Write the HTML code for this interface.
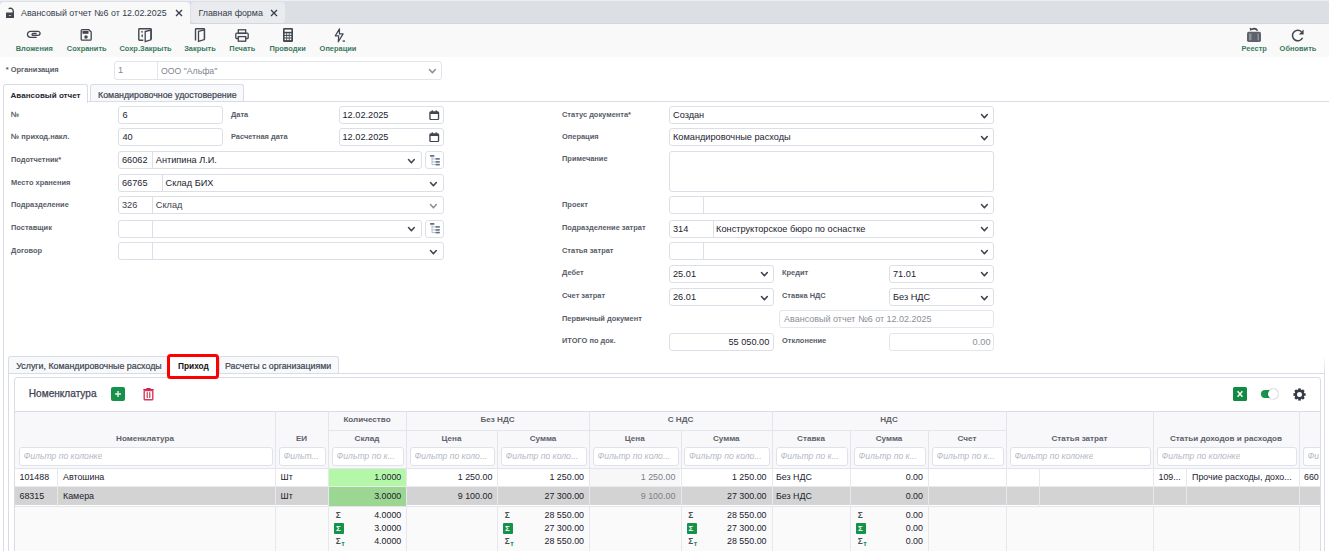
<!DOCTYPE html><html><head><meta charset="utf-8"><style>
*{box-sizing:border-box;margin:0;padding:0}
html,body{width:1329px;height:551px;overflow:hidden;background:#fff;font-family:"Liberation Sans",sans-serif;position:relative}
svg{display:block}
.abs{position:absolute}
.lbl{position:absolute;font-size:7.45px;font-weight:bold;color:#585d67;white-space:nowrap;line-height:10px}
.inp{position:absolute;border:1px solid #dcdfe8;border-radius:3px;background:#fff}
.t{position:absolute;font-size:9.2px;color:#1b2230;white-space:nowrap;line-height:12px}
.t2{position:absolute;font-size:9.2px;color:#3f4247;white-space:nowrap;line-height:12px}
.tg{position:absolute;font-size:9.2px;color:#80858e;white-space:nowrap;line-height:12px}
.vl{position:absolute;width:1px;background:#dcdfe8}
.hl{position:absolute;height:1px;background:#dcdfe8}
.tb{position:absolute;font-size:7.45px;font-weight:bold;color:#3a7a5c;white-space:nowrap;line-height:10px}
.ico{position:absolute}
.hd{position:absolute;font-size:8.1px;font-weight:bold;color:#5d626c;white-space:nowrap;line-height:10px}
.ph{position:absolute;font-size:8.6px;font-style:italic;color:#b3b8c2;white-space:nowrap;line-height:11px;overflow:hidden;text-overflow:ellipsis}
.c{position:absolute;font-size:8.9px;color:#1b2230;white-space:nowrap;line-height:11px}
.tab{position:absolute;font-size:8.8px;color:#3d4452;white-space:nowrap;line-height:11px;-webkit-text-stroke:0.2px currentColor}
</style></head><body><div class="abs" style="left:0;top:0;width:1329px;height:24px;background:#dcdfe4;border-top:1px solid #eceef1;border-bottom:1px solid #d4d8de"></div><div class="abs" style="left:0;top:2px;width:190px;height:22px;background:#f9f9fa;border-radius:4px 4px 0 0"></div><div class="abs" style="left:191px;top:2px;width:94px;height:20.5px;background:#e9ebef;border-radius:4px"></div><svg class="ico" style="left:5px;top:7px" width="10" height="12" viewBox="0 0 10 12"><path d="M3.6 1.7 Q5 0.9 6.5 1.4 Q8.3 2.2 8.3 4.5 V6" fill="none" stroke="#41464f" stroke-width="1.4"/><rect x="1" y="5.6" width="8" height="5.4" rx="0.5" fill="#41464f"/><rect x="3.9" y="8.1" width="2.2" height="0.9" fill="#c8cbd0"/></svg><div class="t" style="left:21px;top:7px;font-size:8.9px;color:#353c4a">Авансовый отчет №6 от 12.02.2025</div><div class="ico" style="left:174.5px;top:9px"><svg width="8" height="8" viewBox="0 0 8 8"><path d="M1 1 L7 7 M7 1 L1 7" stroke="#353c4a" stroke-width="1.3"/></svg></div><div class="t" style="left:198.4px;top:7px;font-size:8.9px;color:#353c4a">Главная форма</div><div class="ico" style="left:269.5px;top:9px"><svg width="8" height="8" viewBox="0 0 8 8"><path d="M1 1 L7 7 M7 1 L1 7" stroke="#353c4a" stroke-width="1.3"/></svg></div><div class="abs" style="left:0;top:24px;width:1329px;height:33px;background:#f9f9fa"></div><div class="tb" style="left:15.7px;top:43.5px;">Вложения</div><div class="tb" style="left:66.8px;top:43.5px;">Сохранить</div><div class="tb" style="left:119.5px;top:43.5px;">Сохр.Закрыть</div><div class="tb" style="left:184.2px;top:43.5px;">Закрыть</div><div class="tb" style="left:229.3px;top:43.5px;">Печать</div><div class="tb" style="left:269.4px;top:43.5px;">Проводки</div><div class="tb" style="left:319.6px;top:43.5px;">Операции</div><div class="tb" style="left:1241.6px;top:43.5px;">Реестр</div><div class="tb" style="left:1279.6px;top:43.5px;">Обновить</div><svg class="ico" style="left:26px;top:30px" width="16" height="9" viewBox="0 0 16 9"><path d="M10.7 7.4 H4.5 A3.05 3.05 0 0 1 4.5 1.3 H12 A2.05 2.05 0 0 1 12 5.4 H7 A0.95 0.95 0 0 1 7 3.5 H10.7" fill="none" stroke="#41464f" stroke-width="1.3"/></svg><svg class="ico" style="left:80px;top:29px" width="12" height="12" viewBox="0 0 12 12"><path d="M1.2 1.7 Q1.2 0.7 2.2 0.7 H8.8 L11.2 3.1 V10.2 Q11.2 11.2 10.2 11.2 H2.2 Q1.2 11.2 1.2 10.2 Z" fill="none" stroke="#41464f" stroke-width="1.3"/><rect x="2.5" y="1.9" width="6" height="2.9" fill="#41464f"/><circle cx="6" cy="8.1" r="1.75" fill="#41464f"/></svg><svg class="ico" style="left:138px;top:28px" width="15" height="15" viewBox="0 0 15 15"><path d="M5.3 12.2 H1.5 Q0.8 12.2 0.8 11.5 V1.5 Q0.8 0.8 1.5 0.8 H12.5 Q13.2 0.8 13.2 1.5 V11.4" fill="none" stroke="#41464f" stroke-width="1.4"/><path d="M7.2 3.5 L12.8 2 V11.8 L7.2 13.6 Z" fill="#fafafa" stroke="#41464f" stroke-width="1.3"/><circle cx="4" cy="3.8" r="0.9" fill="#41464f"/><path d="M4.8 6.3 A1.5 1.5 0 0 0 4.8 9.3 Z" fill="#41464f"/></svg><svg class="ico" style="left:194px;top:28px" width="12" height="15" viewBox="0 0 12 15"><path d="M1.5 12.5 V1.5 Q1.5 0.8 2.2 0.8 H9.8 Q10.5 0.8 10.5 1.5 V11.3" fill="none" stroke="#41464f" stroke-width="1.4"/><path d="M4.5 3.3 L10.3 1.8 V11.6 L4.5 13.4 Z" fill="#fafafa" stroke="#41464f" stroke-width="1.3"/></svg><svg class="ico" style="left:235px;top:28.5px" width="14" height="13" viewBox="0 0 14 13"><rect x="3.3" y="0.8" width="7.4" height="3.6" fill="none" stroke="#41464f" stroke-width="1.3"/><path d="M3 9.5 H1.5 Q0.8 9.5 0.8 8.8 V5.2 Q0.8 4.2 1.8 4.2 H12.2 Q13.2 4.2 13.2 5.2 V8.8 Q13.2 9.5 12.5 9.5 H11" fill="none" stroke="#41464f" stroke-width="1.3"/><rect x="3.3" y="7.6" width="7.4" height="4.6" fill="none" stroke="#41464f" stroke-width="1.3"/></svg><svg class="ico" style="left:283px;top:28px" width="10" height="14" viewBox="0 0 10 14"><rect x="0" y="0" width="10" height="14" rx="1.2" fill="#41464f"/><rect x="1.6" y="1.6" width="6.8" height="2.2" fill="#f8f9fa"/><rect x="1.6" y="5.3" width="1.7" height="1.6" fill="#f8f9fa"/><rect x="1.6" y="7.9" width="1.7" height="1.6" fill="#f8f9fa"/><rect x="1.6" y="10.5" width="1.7" height="1.6" fill="#f8f9fa"/><rect x="4.1" y="5.3" width="1.7" height="1.6" fill="#f8f9fa"/><rect x="4.1" y="7.9" width="1.7" height="1.6" fill="#f8f9fa"/><rect x="4.1" y="10.5" width="1.7" height="1.6" fill="#f8f9fa"/><rect x="6.6" y="5.3" width="1.7" height="1.6" fill="#f8f9fa"/><rect x="6.6" y="7.9" width="1.7" height="1.6" fill="#f8f9fa"/><rect x="6.6" y="10.5" width="1.7" height="1.6" fill="#f8f9fa"/></svg><svg class="ico" style="left:334px;top:27.5px" width="12" height="15" viewBox="0 0 12 15"><path d="M5.5 0.9 L5.4 5.9 H9.1 L4.3 13.8 L4.7 7.8 H1.3 Z" fill="none" stroke="#41464f" stroke-width="1.25" stroke-linejoin="round"/><rect x="8.6" y="12.4" width="2.4" height="1.3" fill="#41464f"/></svg><svg class="ico" style="left:1247px;top:27px" width="14" height="15" viewBox="0 0 14 15"><rect x="0" y="4.8" width="14" height="10.2" rx="1.8" fill="#5c616b"/><rect x="2" y="6.5" width="2.5" height="6.8" fill="#8d9199"/><rect x="10.5" y="6.5" width="1.5" height="6.8" fill="#8d9199"/><path d="M10.6 3.6 Q8.5 0.6 5 2.2" fill="none" stroke="#41464f" stroke-width="1.5"/><path d="M2.6 0.4 L3.2 3.8 L6.2 2.6 Z" fill="#41464f"/></svg><svg class="ico" style="left:1291px;top:28.5px" width="14" height="13" viewBox="0 0 14 13"><path d="M11.6 8.8 A5.3 5.3 0 1 1 10.6 2.8" fill="none" stroke="#41464f" stroke-width="1.5"/><path d="M12.6 0.6 V5.4 H7.8 Z" fill="#41464f"/></svg><div class="lbl" style="left:5.8px;top:65px;">* Организация</div><div class="inp" style="left:114px;top:61px;width:328px;height:19px;border-color:#e1e4eb"></div><div class="vl" style="left:157px;top:62px;height:16.5px;background:#e1e4eb;"></div><div class="tg" style="left:118px;top:64px;">1</div><div class="tg" style="left:161px;top:64px;font-size:8.7px;top:64.5px">ООО "Альфа"</div><svg class="ico" style="left:427.5px;top:67.5px" width="8.8" height="6.3" viewBox="-1 -1 8.8 6.3"><path d="M0.5 0.5 L3.4 3.8 L6.3 0.5" fill="none" stroke="#8a8f98" stroke-width="1.55" stroke-linecap="round" stroke-linejoin="round"/></svg><div class="abs" style="left:3px;top:84px;width:85px;height:19px;border:1px solid #d9dce6;border-bottom:none;border-radius:3px 3px 0 0;background:#fff"></div><div class="abs" style="left:90px;top:84px;width:154px;height:18px;border:1px solid #d9dce6;border-bottom:none;border-radius:3px 3px 0 0;background:#f8f9fa"></div><div class="hl" style="left:88px;top:101px;width:1241px;background:#d9dce6;"></div><div class="vl" style="left:3px;top:101px;height:450px;background:#d9dce6;"></div><div class="tab" style="left:10.5px;top:90px;font-weight:bold;font-size:8.05px;color:#1f2633;-webkit-text-stroke:0">Авансовый отчет</div><div class="tab" style="left:98px;top:90px;font-size:8.85px">Командировочное удостоверение</div><div class="lbl" style="left:11px;top:109.6px;">№</div><div class="lbl" style="left:11px;top:131.70000000000002px;">№ приход.накл.</div><div class="lbl" style="left:11px;top:154.60000000000002px;">Подотчетник*</div><div class="lbl" style="left:11px;top:177.5px;">Место хранения</div><div class="lbl" style="left:11px;top:199.70000000000002px;">Подразделение</div><div class="lbl" style="left:11px;top:222.8px;">Поставщик</div><div class="lbl" style="left:11px;top:245.60000000000002px;">Договор</div><div class="lbl" style="left:231px;top:109.6px;">Дата</div><div class="lbl" style="left:231px;top:131.70000000000002px;">Расчетная дата</div><div class="inp" style="left:118px;top:106.3px;width:105px;height:18.0px;"></div><div class="t" style="left:122.5px;top:109.3px;">6</div><div class="inp" style="left:118px;top:128.4px;width:105px;height:18.0px;"></div><div class="t" style="left:122.5px;top:131.4px;">40</div><div class="inp" style="left:339px;top:106.3px;width:105px;height:18.0px;"></div><div class="t" style="left:342.5px;top:109.3px;">12.02.2025</div><div class="ico" style="left:429px;top:109.8px"><svg width="10.5" height="10.5" viewBox="0 0 11 11"><rect x="1" y="2" width="9" height="8" rx="1" fill="none" stroke="#41464f" stroke-width="1.4"/><rect x="1" y="2" width="9" height="2.2" fill="#41464f"/><rect x="2.8" y="0.3" width="1.3" height="2.5" fill="#41464f"/><rect x="6.9" y="0.3" width="1.3" height="2.5" fill="#41464f"/></svg></div><div class="inp" style="left:339px;top:128.4px;width:105px;height:18.0px;"></div><div class="t" style="left:342.5px;top:131.4px;">12.02.2025</div><div class="ico" style="left:429px;top:131.9px"><svg width="10.5" height="10.5" viewBox="0 0 11 11"><rect x="1" y="2" width="9" height="8" rx="1" fill="none" stroke="#41464f" stroke-width="1.4"/><rect x="1" y="2" width="9" height="2.2" fill="#41464f"/><rect x="2.8" y="0.3" width="1.3" height="2.5" fill="#41464f"/><rect x="6.9" y="0.3" width="1.3" height="2.5" fill="#41464f"/></svg></div><div class="inp" style="left:118px;top:151.3px;width:304px;height:18.0px;"></div><div class="vl" style="left:152.3px;top:152.3px;height:16.0px;"></div><div class="t" style="left:122px;top:154.3px;">66062</div><div class="t" style="left:155.8px;top:154.3px;">Антипина Л.И.</div><svg class="ico" style="left:406.8px;top:157.9px" width="8.8" height="6.3" viewBox="-1 -1 8.8 6.3"><path d="M0.5 0.5 L3.4 3.8 L6.3 0.5" fill="none" stroke="#41464f" stroke-width="1.55" stroke-linecap="round" stroke-linejoin="round"/></svg><div class="inp" style="left:425px;top:151.3px;width:19px;height:18.0px;"></div><div class="ico" style="left:429.5px;top:155.0px"><svg width="11" height="11" viewBox="0 0 11 11"><rect x="0" y="0" width="4.4" height="1.7" rx="0.4" fill="#5f6f85"/><path d="M2 1.7 V9.8 M2 3.9 H6 M2 6.9 H6 M2 9.6 H6" stroke="#a3aebb" stroke-width="0.8" fill="none"/><rect x="5.6" y="3.1" width="4.2" height="1.6" fill="#5f6f85"/><rect x="5.6" y="6.1" width="4.2" height="1.6" fill="#5f6f85"/><rect x="5.6" y="8.8" width="4.2" height="1.6" fill="#5f6f85"/></svg></div><div class="inp" style="left:118px;top:174.2px;width:326px;height:18.0px;"></div><div class="vl" style="left:162px;top:175.2px;height:16.0px;"></div><div class="t" style="left:122px;top:177.2px;">66765</div><div class="t" style="left:165.5px;top:177.2px;">Склад БИХ</div><svg class="ico" style="left:428.8px;top:180.79999999999998px" width="8.8" height="6.3" viewBox="-1 -1 8.8 6.3"><path d="M0.5 0.5 L3.4 3.8 L6.3 0.5" fill="none" stroke="#41464f" stroke-width="1.55" stroke-linecap="round" stroke-linejoin="round"/></svg><div class="inp" style="left:118px;top:196.4px;width:326px;height:18.0px;"></div><div class="vl" style="left:152.3px;top:197.4px;height:16.0px;"></div><div class="t2" style="left:122px;top:199.4px;">326</div><div class="t2" style="left:155.8px;top:199.4px;">Склад</div><svg class="ico" style="left:428.8px;top:203.0px" width="8.8" height="6.3" viewBox="-1 -1 8.8 6.3"><path d="M0.5 0.5 L3.4 3.8 L6.3 0.5" fill="none" stroke="#8a8f98" stroke-width="1.55" stroke-linecap="round" stroke-linejoin="round"/></svg><div class="inp" style="left:118px;top:219.5px;width:304px;height:18.0px;"></div><div class="vl" style="left:152.3px;top:220.5px;height:16.0px;"></div><svg class="ico" style="left:406.8px;top:226.1px" width="8.8" height="6.3" viewBox="-1 -1 8.8 6.3"><path d="M0.5 0.5 L3.4 3.8 L6.3 0.5" fill="none" stroke="#41464f" stroke-width="1.55" stroke-linecap="round" stroke-linejoin="round"/></svg><div class="inp" style="left:425px;top:219.5px;width:19px;height:18.0px;"></div><div class="ico" style="left:429.5px;top:223.2px"><svg width="11" height="11" viewBox="0 0 11 11"><rect x="0" y="0" width="4.4" height="1.7" rx="0.4" fill="#5f6f85"/><path d="M2 1.7 V9.8 M2 3.9 H6 M2 6.9 H6 M2 9.6 H6" stroke="#a3aebb" stroke-width="0.8" fill="none"/><rect x="5.6" y="3.1" width="4.2" height="1.6" fill="#5f6f85"/><rect x="5.6" y="6.1" width="4.2" height="1.6" fill="#5f6f85"/><rect x="5.6" y="8.8" width="4.2" height="1.6" fill="#5f6f85"/></svg></div><div class="inp" style="left:118px;top:242.3px;width:326px;height:18.0px;"></div><div class="vl" style="left:152.3px;top:243.3px;height:16.0px;"></div><svg class="ico" style="left:428.8px;top:248.9px" width="8.8" height="6.3" viewBox="-1 -1 8.8 6.3"><path d="M0.5 0.5 L3.4 3.8 L6.3 0.5" fill="none" stroke="#41464f" stroke-width="1.55" stroke-linecap="round" stroke-linejoin="round"/></svg><div class="lbl" style="left:562px;top:109.6px;">Статус документа*</div><div class="lbl" style="left:562px;top:131.70000000000002px;">Операция</div><div class="lbl" style="left:562px;top:153.8px;">Примечание</div><div class="lbl" style="left:562px;top:199.70000000000002px;">Проект</div><div class="lbl" style="left:562px;top:222.8px;">Подразделение затрат</div><div class="lbl" style="left:562px;top:245.60000000000002px;">Статья затрат</div><div class="lbl" style="left:562px;top:268.1px;">Дебет</div><div class="lbl" style="left:562px;top:291.2px;">Счет затрат</div><div class="lbl" style="left:562px;top:313.7px;">Первичный документ</div><div class="lbl" style="left:562px;top:336.0px;">ИТОГО по док.</div><div class="inp" style="left:669px;top:106.3px;width:324.5px;height:18.0px;"></div><div class="t" style="left:673px;top:109.3px;">Создан</div><svg class="ico" style="left:979.8px;top:112.89999999999999px" width="8.8" height="6.3" viewBox="-1 -1 8.8 6.3"><path d="M0.5 0.5 L3.4 3.8 L6.3 0.5" fill="none" stroke="#3b4150" stroke-width="1.55" stroke-linecap="round" stroke-linejoin="round"/></svg><div class="inp" style="left:669px;top:128.4px;width:324.5px;height:18.0px;"></div><div class="t" style="left:673px;top:131.4px;">Командировочные расходы</div><svg class="ico" style="left:979.8px;top:135.0px" width="8.8" height="6.3" viewBox="-1 -1 8.8 6.3"><path d="M0.5 0.5 L3.4 3.8 L6.3 0.5" fill="none" stroke="#3b4150" stroke-width="1.55" stroke-linecap="round" stroke-linejoin="round"/></svg><div class="inp" style="left:669px;top:151.3px;width:324.5px;height:40.69999999999999px;"></div><div class="inp" style="left:669px;top:196.4px;width:324.5px;height:18.0px;"></div><div class="vl" style="left:702.6px;top:197.4px;height:16.0px;"></div><svg class="ico" style="left:979.8px;top:203.0px" width="8.8" height="6.3" viewBox="-1 -1 8.8 6.3"><path d="M0.5 0.5 L3.4 3.8 L6.3 0.5" fill="none" stroke="#41464f" stroke-width="1.55" stroke-linecap="round" stroke-linejoin="round"/></svg><div class="inp" style="left:669px;top:219.5px;width:324.5px;height:18.0px;"></div><div class="vl" style="left:712.6px;top:220.5px;height:16.0px;"></div><div class="t" style="left:673px;top:222.5px;">314</div><div class="t" style="left:716.1px;top:222.5px;">Конструкторское бюро по оснастке</div><svg class="ico" style="left:979.8px;top:226.1px" width="8.8" height="6.3" viewBox="-1 -1 8.8 6.3"><path d="M0.5 0.5 L3.4 3.8 L6.3 0.5" fill="none" stroke="#41464f" stroke-width="1.55" stroke-linecap="round" stroke-linejoin="round"/></svg><div class="inp" style="left:669px;top:242.3px;width:324.5px;height:18.0px;"></div><div class="vl" style="left:702.6px;top:243.3px;height:16.0px;"></div><svg class="ico" style="left:979.8px;top:248.9px" width="8.8" height="6.3" viewBox="-1 -1 8.8 6.3"><path d="M0.5 0.5 L3.4 3.8 L6.3 0.5" fill="none" stroke="#41464f" stroke-width="1.55" stroke-linecap="round" stroke-linejoin="round"/></svg><div class="inp" style="left:669px;top:264.8px;width:104.5px;height:18.0px;"></div><div class="t" style="left:673px;top:267.8px;">25.01</div><svg class="ico" style="left:759.8px;top:271.40000000000003px" width="8.8" height="6.3" viewBox="-1 -1 8.8 6.3"><path d="M0.5 0.5 L3.4 3.8 L6.3 0.5" fill="none" stroke="#3b4150" stroke-width="1.55" stroke-linecap="round" stroke-linejoin="round"/></svg><div class="inp" style="left:669px;top:287.9px;width:104.5px;height:18.0px;"></div><div class="t" style="left:673px;top:290.9px;">26.01</div><svg class="ico" style="left:759.8px;top:294.5px" width="8.8" height="6.3" viewBox="-1 -1 8.8 6.3"><path d="M0.5 0.5 L3.4 3.8 L6.3 0.5" fill="none" stroke="#3b4150" stroke-width="1.55" stroke-linecap="round" stroke-linejoin="round"/></svg><div class="lbl" style="left:782px;top:268.1px;">Кредит</div><div class="lbl" style="left:782px;top:291.2px;">Ставка НДС</div><div class="inp" style="left:889px;top:264.8px;width:104.5px;height:18.0px;"></div><div class="t" style="left:893px;top:267.8px;">71.01</div><svg class="ico" style="left:979.8px;top:271.40000000000003px" width="8.8" height="6.3" viewBox="-1 -1 8.8 6.3"><path d="M0.5 0.5 L3.4 3.8 L6.3 0.5" fill="none" stroke="#3b4150" stroke-width="1.55" stroke-linecap="round" stroke-linejoin="round"/></svg><div class="inp" style="left:889px;top:287.9px;width:104.5px;height:18.0px;"></div><div class="t" style="left:893px;top:290.9px;">Без НДС</div><svg class="ico" style="left:979.8px;top:294.5px" width="8.8" height="6.3" viewBox="-1 -1 8.8 6.3"><path d="M0.5 0.5 L3.4 3.8 L6.3 0.5" fill="none" stroke="#3b4150" stroke-width="1.55" stroke-linecap="round" stroke-linejoin="round"/></svg><div class="inp" style="left:779px;top:310.4px;width:214.5px;height:18.0px;border-color:#e3e6ec"></div><div class="tg" style="left:784px;top:313.4px;color:#8a8f98;font-size:9px">Авансовый отчет №6 от 12.02.2025</div><div class="inp" style="left:669px;top:332.7px;width:104.5px;height:18.0px;"></div><div class="t" style="right:559.7px;top:335.7px;">55 050.00</div><div class="lbl" style="left:782px;top:336.0px;">Отклонение</div><div class="inp" style="left:889px;top:332.7px;width:104.5px;height:18.0px;border-color:#e3e6ec"></div><div class="tg" style="right:338.5px;top:335.7px;color:#8a8f98">0.00</div><div class="abs" style="left:8px;top:356px;width:160px;height:18px;border:1px solid #d9dce6;border-bottom:none;border-radius:3px 3px 0 0;background:#f8f9fa"></div><div class="abs" style="left:219px;top:356px;width:120px;height:18px;border:1px solid #d9dce6;border-bottom:none;border-radius:3px 3px 0 0;background:#f8f9fa"></div><div class="hl" style="left:8px;top:373px;width:160px;background:#d9dce6;"></div><div class="hl" style="left:218px;top:373px;width:1107px;background:#d9dce6;"></div><div class="vl" style="left:8px;top:373px;height:178px;background:#d9dce6;"></div><div class="abs" style="left:1324px;top:355px;width:1px;height:196px;background:linear-gradient(#fff,#d9dce6 18px)"></div><div class="tab" style="left:16.3px;top:361px;font-size:8.85px">Услуги, Командировочные расходы</div><div class="tab" style="left:225px;top:361px;font-size:8.85px">Расчеты с организациями</div><div class="tab" style="left:178px;top:361px;font-weight:bold;font-size:8.3px;color:#111;-webkit-text-stroke:0">Приход</div><div class="abs" style="left:14px;top:377px;width:1307px;height:200px;border:1px solid #d9dce6;border-radius:3px;background:#fff"></div><div class="t" style="left:28.8px;top:388px;font-size:10.1px;color:#3d4451;-webkit-text-stroke:0.25px #3d4451">Номенклатура</div><div class="abs" style="left:111px;top:387px;width:14px;height:14px;background:#15914a;border-radius:2px"></div><svg class="ico" style="left:111px;top:387px" width="14" height="14" viewBox="0 0 14 14"><path d="M7 4 V10 M4 7 H10" stroke="#e6f2ea" stroke-width="1.4"/></svg><svg class="ico" style="left:142.5px;top:388px" width="11" height="13" viewBox="0 0 11 13"><rect x="0.2" y="1" width="10.6" height="1.6" rx="0.5" fill="#d3224a"/><rect x="3.3" y="0" width="4.4" height="1.5" rx="0.5" fill="#d3224a"/><rect x="1.2" y="2.6" width="8.6" height="9.2" rx="0.8" fill="none" stroke="#d63a5a" stroke-width="1.4"/><path d="M4.2 4.6 V9.4 M6.8 4.6 V9.4" stroke="#d3224a" stroke-width="1.1" stroke-linecap="round"/></svg><div class="abs" style="left:1233px;top:387px;width:14px;height:14px;background:#138a44;border-radius:1.5px"></div><svg class="ico" style="left:1233px;top:387px" width="14" height="14" viewBox="0 0 14 14"><path d="M4.6 4.2 L9.4 9.8 M9.4 4.2 L4.6 9.8" stroke="#f2f8f4" stroke-width="1.5"/></svg><div class="abs" style="left:1261px;top:390px;width:13px;height:8px;background:#17934a;border-radius:4px"></div><div class="abs" style="left:1268px;top:389px;width:9.5px;height:9.5px;background:#fff;border-radius:50%;box-shadow:0 0 1.6px rgba(0,0,0,.5)"></div><svg class="ico" style="left:1292.5px;top:387.5px" width="13" height="13" viewBox="-6.5 -6.5 13 13"><g fill="#353b46"><rect x="-1.3" y="-6.1" width="2.6" height="2.6" transform="rotate(0)"/><rect x="-1.3" y="-6.1" width="2.6" height="2.6" transform="rotate(45)"/><rect x="-1.3" y="-6.1" width="2.6" height="2.6" transform="rotate(90)"/><rect x="-1.3" y="-6.1" width="2.6" height="2.6" transform="rotate(135)"/><rect x="-1.3" y="-6.1" width="2.6" height="2.6" transform="rotate(180)"/><rect x="-1.3" y="-6.1" width="2.6" height="2.6" transform="rotate(225)"/><rect x="-1.3" y="-6.1" width="2.6" height="2.6" transform="rotate(270)"/><rect x="-1.3" y="-6.1" width="2.6" height="2.6" transform="rotate(315)"/></g><circle r="3.7" fill="none" stroke="#353b46" stroke-width="2.4"/></svg><div class="abs" style="left:15px;top:411px;width:1305px;height:57px;background:#f8f8fa"></div><div class="hl" style="left:15px;top:411px;width:1305px;background:#d9dce6;"></div><div class="vl" style="left:275px;top:411px;height:57px;background:#e3e5ec;"></div><div class="vl" style="left:328px;top:411px;height:57px;background:#e3e5ec;"></div><div class="vl" style="left:406px;top:411px;height:57px;background:#e3e5ec;"></div><div class="vl" style="left:1006px;top:411px;height:57px;background:#e3e5ec;"></div><div class="vl" style="left:1153px;top:411px;height:57px;background:#e3e5ec;"></div><div class="vl" style="left:1299px;top:411px;height:57px;background:#e3e5ec;"></div><div class="vl" style="left:497px;top:429.5px;height:38.5px;background:#e3e5ec;"></div><div class="vl" style="left:680.5px;top:429.5px;height:38.5px;background:#e3e5ec;"></div><div class="vl" style="left:850px;top:429.5px;height:38.5px;background:#e3e5ec;"></div><div class="vl" style="left:928px;top:429.5px;height:38.5px;background:#e3e5ec;"></div><div class="vl" style="left:589px;top:411px;height:57px;background:#e3e5ec;"></div><div class="vl" style="left:772px;top:411px;height:57px;background:#e3e5ec;"></div><div class="hl" style="left:328px;top:429.5px;width:678px;background:#e3e5ec;"></div><div class="hd" style="left:328px;width:78px;top:415px;text-align:center;">Количество</div><div class="hd" style="left:406px;width:183px;top:415px;text-align:center;">Без НДС</div><div class="hd" style="left:589px;width:183px;top:415px;text-align:center;">С НДС</div><div class="hd" style="left:772px;width:234px;top:415px;text-align:center;">НДС</div><div class="hd" style="left:15px;width:260px;top:434px;text-align:center;">Номенклатура</div><div class="hd" style="left:275px;width:53px;top:434px;text-align:center;">ЕИ</div><div class="hd" style="left:328px;width:78px;top:434px;text-align:center;">Склад</div><div class="hd" style="left:406px;width:91px;top:434px;text-align:center;">Цена</div><div class="hd" style="left:497px;width:92px;top:434px;text-align:center;">Сумма</div><div class="hd" style="left:589px;width:91.5px;top:434px;text-align:center;">Цена</div><div class="hd" style="left:680.5px;width:91.5px;top:434px;text-align:center;">Сумма</div><div class="hd" style="left:772px;width:78px;top:434px;text-align:center;">Ставка</div><div class="hd" style="left:850px;width:78px;top:434px;text-align:center;">Сумма</div><div class="hd" style="left:928px;width:78px;top:434px;text-align:center;">Счет</div><div class="hd" style="left:1006px;width:147px;top:434px;text-align:center;">Статья затрат</div><div class="hd" style="left:1153px;width:146px;top:434px;text-align:center;">Статьи доходов и расходов</div><div class="inp" style="left:18.5px;top:447px;width:254.5px;height:18.5px;border-color:#dfe2ea"></div><div class="ph" style="left:23.5px;top:451px;">Фильтр по колонке</div><div class="inp" style="left:278.5px;top:447px;width:47.5px;height:18.5px;border-color:#dfe2ea"></div><div class="ph" style="left:283.5px;top:451px;">Фильт...</div><div class="inp" style="left:331.5px;top:447px;width:72.5px;height:18.5px;border-color:#dfe2ea"></div><div class="ph" style="left:336.5px;top:451px;">Фильтр по к...</div><div class="inp" style="left:409.5px;top:447px;width:85.5px;height:18.5px;border-color:#dfe2ea"></div><div class="ph" style="left:414.5px;top:451px;">Фильтр по коло...</div><div class="inp" style="left:500.5px;top:447px;width:86.5px;height:18.5px;border-color:#dfe2ea"></div><div class="ph" style="left:505.5px;top:451px;">Фильтр по коло...</div><div class="inp" style="left:592.5px;top:447px;width:86.0px;height:18.5px;border-color:#dfe2ea"></div><div class="ph" style="left:597.5px;top:451px;">Фильтр по коло...</div><div class="inp" style="left:684.0px;top:447px;width:86.0px;height:18.5px;border-color:#dfe2ea"></div><div class="ph" style="left:689.0px;top:451px;">Фильтр по коло...</div><div class="inp" style="left:775.5px;top:447px;width:72.5px;height:18.5px;border-color:#dfe2ea"></div><div class="ph" style="left:780.5px;top:451px;">Фильтр по к...</div><div class="inp" style="left:853.5px;top:447px;width:72.5px;height:18.5px;border-color:#dfe2ea"></div><div class="ph" style="left:858.5px;top:451px;">Фильтр по к...</div><div class="inp" style="left:931.5px;top:447px;width:72.5px;height:18.5px;border-color:#dfe2ea"></div><div class="ph" style="left:936.5px;top:451px;">Фильтр по к...</div><div class="inp" style="left:1009.5px;top:447px;width:141.5px;height:18.5px;border-color:#dfe2ea"></div><div class="ph" style="left:1014.5px;top:451px;">Фильтр по колонке</div><div class="inp" style="left:1156.5px;top:447px;width:140.5px;height:18.5px;border-color:#dfe2ea"></div><div class="ph" style="left:1161.5px;top:451px;">Фильтр по колонке</div><div class="inp" style="left:1302.5px;top:447px;width:17.5px;height:18.5px;border-color:#dfe2ea;border-right:none;border-radius:3px 0 0 3px"></div><div class="ph" style="left:1307.5px;top:451px;">Фи</div><div class="hl" style="left:15px;top:468px;width:1305px;background:#e3e5ec;"></div><div class="abs" style="left:15px;top:486.5px;width:1305px;height:18.5px;background:#d3d3d3"></div><div class="hl" style="left:15px;top:486px;width:1305px;background:#e8eaef;"></div><div class="abs" style="left:15px;top:505.5px;width:1305px;height:60px;background:#fafafb;border-top:1px solid #e3e5ec"></div><div class="abs" style="left:328px;top:469px;width:78px;height:17px;background:#b5f7a9"></div><div class="abs" style="left:328px;top:486.5px;width:78px;height:19.0px;background:#9bd692"></div><div class="abs" style="left:589px;top:469px;width:91px;height:17px;background:#f7f7f8"></div><div class="vl" style="left:57.4px;top:468px;height:37.5px;background:#e6e8ee;"></div><div class="vl" style="left:275px;top:468px;height:37.5px;background:#e6e8ee;"></div><div class="vl" style="left:328px;top:468px;height:37.5px;background:#e6e8ee;"></div><div class="vl" style="left:406px;top:468px;height:37.5px;background:#e6e8ee;"></div><div class="vl" style="left:497px;top:468px;height:37.5px;background:#e6e8ee;"></div><div class="vl" style="left:589px;top:468px;height:37.5px;background:#e6e8ee;"></div><div class="vl" style="left:680.5px;top:468px;height:37.5px;background:#e6e8ee;"></div><div class="vl" style="left:772px;top:468px;height:37.5px;background:#e6e8ee;"></div><div class="vl" style="left:850px;top:468px;height:37.5px;background:#e6e8ee;"></div><div class="vl" style="left:928px;top:468px;height:37.5px;background:#e6e8ee;"></div><div class="vl" style="left:1006px;top:468px;height:37.5px;background:#e6e8ee;"></div><div class="vl" style="left:1039px;top:468px;height:37.5px;background:#e6e8ee;"></div><div class="vl" style="left:1153px;top:468px;height:37.5px;background:#e6e8ee;"></div><div class="vl" style="left:1186px;top:468px;height:37.5px;background:#e6e8ee;"></div><div class="vl" style="left:1299px;top:468px;height:37.5px;background:#e6e8ee;"></div><div class="vl" style="left:275px;top:505.5px;height:45.5px;background:#e6e8ee;"></div><div class="vl" style="left:328px;top:505.5px;height:45.5px;background:#e6e8ee;"></div><div class="vl" style="left:406px;top:505.5px;height:45.5px;background:#e6e8ee;"></div><div class="vl" style="left:497px;top:505.5px;height:45.5px;background:#e6e8ee;"></div><div class="vl" style="left:589px;top:505.5px;height:45.5px;background:#e6e8ee;"></div><div class="vl" style="left:680.5px;top:505.5px;height:45.5px;background:#e6e8ee;"></div><div class="vl" style="left:772px;top:505.5px;height:45.5px;background:#e6e8ee;"></div><div class="vl" style="left:850px;top:505.5px;height:45.5px;background:#e6e8ee;"></div><div class="vl" style="left:928px;top:505.5px;height:45.5px;background:#e6e8ee;"></div><div class="vl" style="left:1006px;top:505.5px;height:45.5px;background:#e6e8ee;"></div><div class="vl" style="left:1153px;top:505.5px;height:45.5px;background:#e6e8ee;"></div><div class="vl" style="left:1299px;top:505.5px;height:45.5px;background:#e6e8ee;"></div><div class="c" style="left:19.5px;top:472px;">101488</div><div class="c" style="left:63px;top:472px;">Автошина</div><div class="c" style="left:280.5px;top:472px;">Шт</div><div class="c" style="right:927.7px;top:472px;">1.0000</div><div class="c" style="right:836.7px;top:472px;">1 250.00</div><div class="c" style="right:745px;top:472px;">1 250.00</div><div class="c" style="right:653.7px;top:472px;color:#7c8089">1 250.00</div><div class="c" style="right:562.5px;top:472px;">1 250.00</div><div class="c" style="left:776px;top:472px;">Без НДС</div><div class="c" style="right:406px;top:472px;">0.00</div><div class="c" style="left:19.5px;top:491px;">68315</div><div class="c" style="left:63px;top:491px;">Камера</div><div class="c" style="left:280.5px;top:491px;">Шт</div><div class="c" style="right:927.7px;top:491px;">3.0000</div><div class="c" style="right:836.7px;top:491px;">9 100.00</div><div class="c" style="right:745px;top:491px;">27 300.00</div><div class="c" style="right:653.7px;top:491px;color:#7c8089">9 100.00</div><div class="c" style="right:562.5px;top:491px;">27 300.00</div><div class="c" style="left:776px;top:491px;">Без НДС</div><div class="c" style="right:406px;top:491px;">0.00</div><div class="c" style="left:1158.5px;top:472px;">109...</div><div class="c" style="left:1192px;top:472px;">Прочие расходы, дохо...</div><div class="c" style="left:1304px;top:472px;">660</div><div class="c" style="left:335.8px;top:509.5px;font-size:8.4px;font-weight:bold;color:#4a505a">Σ</div><div class="c" style="right:927.7px;top:509.5px;">4.0000</div><div class="abs" style="left:334px;top:523.0px;width:10px;height:11px;background:#15914a;border-radius:1px"></div><div class="c" style="left:336px;top:523.0px;font-size:8px;font-weight:bold;color:#fff">Σ</div><div class="c" style="right:927.7px;top:522.5px;">3.0000</div><div class="c" style="left:335.8px;top:535.5px;font-size:8.4px;font-weight:bold;color:#4a505a">Σ</div><div class="c" style="left:341.3px;top:538.0px;font-size:7px;font-weight:bold;color:#15914a">т</div><div class="c" style="right:927.7px;top:535.5px;">4.0000</div><div class="c" style="left:504.8px;top:509.5px;font-size:8.4px;font-weight:bold;color:#4a505a">Σ</div><div class="c" style="right:745px;top:509.5px;">28 550.00</div><div class="abs" style="left:503px;top:523.0px;width:10px;height:11px;background:#15914a;border-radius:1px"></div><div class="c" style="left:505px;top:523.0px;font-size:8px;font-weight:bold;color:#fff">Σ</div><div class="c" style="right:745px;top:522.5px;">27 300.00</div><div class="c" style="left:504.8px;top:535.5px;font-size:8.4px;font-weight:bold;color:#4a505a">Σ</div><div class="c" style="left:510.3px;top:538.0px;font-size:7px;font-weight:bold;color:#15914a">т</div><div class="c" style="right:745px;top:535.5px;">28 550.00</div><div class="c" style="left:688.3px;top:509.5px;font-size:8.4px;font-weight:bold;color:#4a505a">Σ</div><div class="c" style="right:562.5px;top:509.5px;">28 550.00</div><div class="abs" style="left:686.5px;top:523.0px;width:10px;height:11px;background:#15914a;border-radius:1px"></div><div class="c" style="left:688.5px;top:523.0px;font-size:8px;font-weight:bold;color:#fff">Σ</div><div class="c" style="right:562.5px;top:522.5px;">27 300.00</div><div class="c" style="left:688.3px;top:535.5px;font-size:8.4px;font-weight:bold;color:#4a505a">Σ</div><div class="c" style="left:693.8px;top:538.0px;font-size:7px;font-weight:bold;color:#15914a">т</div><div class="c" style="right:562.5px;top:535.5px;">28 550.00</div><div class="c" style="left:857.8px;top:509.5px;font-size:8.4px;font-weight:bold;color:#4a505a">Σ</div><div class="c" style="right:406px;top:509.5px;">0.00</div><div class="abs" style="left:856px;top:523.0px;width:10px;height:11px;background:#15914a;border-radius:1px"></div><div class="c" style="left:858px;top:523.0px;font-size:8px;font-weight:bold;color:#fff">Σ</div><div class="c" style="right:406px;top:522.5px;">0.00</div><div class="c" style="left:857.8px;top:535.5px;font-size:8.4px;font-weight:bold;color:#4a505a">Σ</div><div class="c" style="left:863.3px;top:538.0px;font-size:7px;font-weight:bold;color:#15914a">т</div><div class="c" style="right:406px;top:535.5px;">0.00</div><div class="abs" style="left:167px;top:354px;width:52px;height:25px;border:3px solid #ff0000;border-radius:3.5px;z-index:5"></div></body></html>
